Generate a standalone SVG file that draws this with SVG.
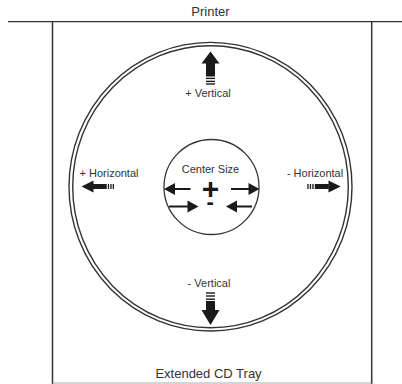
<svg xmlns="http://www.w3.org/2000/svg" width="402" height="384" viewBox="0 0 402 384">
<style>
.t{font-family:"Liberation Sans",Arial,sans-serif;fill:#333;text-anchor:middle}
.big{font-size:13px}
.lbl{font-size:11px}
.ln{stroke:#333;fill:none}
.ar{fill:#1a1a1a}
.sa{stroke:#1a1a1a;stroke-width:2;fill:none}
.pm{font-weight:bold;fill:#1a1a1a}
</style>
<rect width="402" height="384" fill="#fff"/>
<g id="frame">
<line class="ln" x1="8" y1="21.7" x2="402" y2="21.7" stroke-width="1.3"/>
<line class="ln" x1="52.5" y1="21.7" x2="52.5" y2="384" stroke-width="1.5"/>
<line class="ln" x1="371.7" y1="21.7" x2="371.7" y2="384" stroke-width="1.5"/>
<line x1="52.5" y1="383" x2="371.7" y2="383" stroke="#aaa" stroke-width="1"/>
</g>
<g id="printer-label"><text class="t big" x="210.5" y="16">Printer</text></g>
<g id="tray-label"><text class="t big" x="208.5" y="377.5">Extended CD Tray</text></g>
<g id="cd">
<ellipse class="ln" cx="210.5" cy="186.7" rx="141.5" ry="144.3" stroke-width="1.4"/>
<ellipse class="ln" cx="210.5" cy="186.7" rx="137.8" ry="141" stroke-width="1.4"/>
</g>
<g id="center-size">
<circle class="ln" cx="211.5" cy="187" r="47.5" stroke-width="1.3"/>
<text class="t lbl" x="210.5" y="172.5">Center Size</text>
<text class="t pm"><tspan x="210.5" y="199" style="font-size:30px">+</tspan><tspan x="210.2" y="208.7" style="font-size:22px">-</tspan></text>
</g>
<g id="connectors">
<line class="sa" x1="190.5" y1="189" x2="174" y2="189"/>
<polygon class="ar" points="164,189 175,183 175,195"/>
<line class="sa" x1="231" y1="189" x2="249" y2="189"/>
<polygon class="ar" points="259.5,189 248.5,183 248.5,195"/>
<line class="sa" x1="169" y1="206.5" x2="188.5" y2="206.5"/>
<polygon class="ar" points="198.5,206.5 187.5,200.5 187.5,212.5"/>
<line class="sa" x1="236" y1="206.5" x2="252" y2="206.5"/>
<polygon class="ar" points="226,206.5 237,200.5 237,212.5"/>
</g>
<g id="plus-vertical">
<polygon class="ar" points="210.5,51.5 219.5,63.5 201.5,63.5"/>
<rect class="ar" x="206" y="63" width="9" height="13.5"/>
<rect class="ar" x="206" y="77.7" width="9" height="1.4"/>
<rect class="ar" x="206" y="80.7" width="9" height="1.4"/>
<rect class="ar" x="206" y="83.3" width="9" height="1.4"/>
<text class="t lbl" x="208" y="97">+ Vertical</text>
</g>
<g id="minus-vertical">
<text class="t lbl" x="209" y="287">- Vertical</text>
<rect class="ar" x="206" y="292.3" width="9" height="1.4"/>
<rect class="ar" x="206" y="295.3" width="9" height="1.4"/>
<rect class="ar" x="206" y="298.5" width="9" height="1.4"/>
<rect class="ar" x="206" y="301" width="9" height="9.5"/>
<polygon class="ar" points="201.5,310 219.5,310 210.5,325"/>
</g>
<g id="plus-horizontal">
<text class="t lbl" x="109" y="176.5">+ Horizontal</text>
<polygon class="ar" points="81.5,186.5 93.5,180.5 93.5,192.5"/>
<rect class="ar" x="93" y="184" width="13.7" height="5"/>
<rect class="ar" x="107.8" y="184" width="1.3" height="5"/>
<rect class="ar" x="110.3" y="184" width="1.3" height="5"/>
<rect class="ar" x="112.7" y="184" width="1.3" height="5"/>
</g>
<g id="minus-horizontal">
<text class="t lbl" x="315" y="176.5">- Horizontal</text>
<rect class="ar" x="307.3" y="184" width="1.3" height="5"/>
<rect class="ar" x="309.8" y="184" width="1.3" height="5"/>
<rect class="ar" x="312.3" y="184" width="1.3" height="5"/>
<rect class="ar" x="314.8" y="184" width="14" height="5"/>
<polygon class="ar" points="340.7,186.5 328.5,180.5 328.5,192.5"/>
</g>
</svg>
